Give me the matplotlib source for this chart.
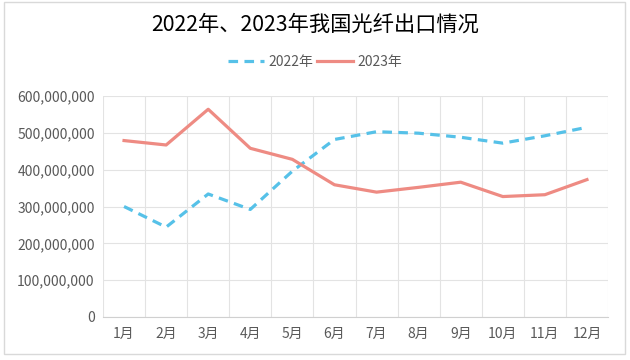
import matplotlib.pyplot as plt
from matplotlib.patches import Rectangle
from matplotlib.ticker import FuncFormatter

plt.rcParams['font.family'] = ['Noto Sans CJK SC', 'DejaVu Sans']

months = ['1月', '2月', '3月', '4月', '5月', '6月', '7月', '8月', '9月', '10月', '11月', '12月']
exports_2022 = [300e6, 244e6, 334e6, 292e6, 396e6, 482e6, 503e6, 499e6, 488e6, 472e6, 492e6, 515e6]
exports_2023 = [479e6, 467e6, 564e6, 458e6, 428e6, 359e6, 339e6, 352e6, 366e6, 327e6, 332e6, 373e6]

fig = plt.figure(figsize=(6.3, 3.6), dpi=100)
ax = fig.add_axes([103 / 630, 1 - 317 / 360, 505 / 630, 221 / 360])

x = list(range(1, len(months) + 1))
ax.plot(x, exports_2022, color='#56C1E8', lw=2.3, ls=(0, (3, 2)), label='2022年',
        solid_capstyle='butt', dash_capstyle='butt')
ax.plot(x, exports_2023, color='#EE8B83', lw=2.3, label='2023年')

ax.set_xlim(0.5, 12.5)
ax.set_ylim(0, 600e6)
ax.set_yticks([i * 100e6 for i in range(7)])
ax.yaxis.set_major_formatter(FuncFormatter(lambda v, p: f'{int(v):,}'))
ax.set_xticks(x)
ax.set_xticklabels(months)

# gridlines between categories, like excel
for b in [i + 0.5 for i in range(0, 13)]:
    ax.axvline(b, color='#E3E3E3', lw=0.8, zorder=0)
ax.yaxis.grid(True, color='#E3E3E3', lw=0.8)
ax.set_axisbelow(True)

for s in ['top', 'right', 'left']:
    ax.spines[s].set_visible(False)
ax.spines['bottom'].set_color('#D0D0D0')
ax.tick_params(length=0, labelsize=10, colors='#595959')
ax.tick_params(axis='x', pad=7)
ax.tick_params(axis='y', pad=6)

fig.text(0.5, 1 - 25 / 360, '2022年、2023年我国光纤出口情况', ha='center', va='center',
         fontsize=15.3, color='black')
fig.legend(loc='center', bbox_to_anchor=(0.5, 1 - 62 / 360), ncol=2, frameon=False,
           fontsize=10, handlelength=2.6, handletextpad=0.3, columnspacing=0.3,
           labelcolor='#595959')

fig.patches.append(Rectangle((4 / 630, 1 - 354 / 360), 621 / 630, 352 / 360,
                             transform=fig.transFigure, fill=False, ec='#D9D9D9', lw=1))

plt.savefig('out.png', dpi=100)
